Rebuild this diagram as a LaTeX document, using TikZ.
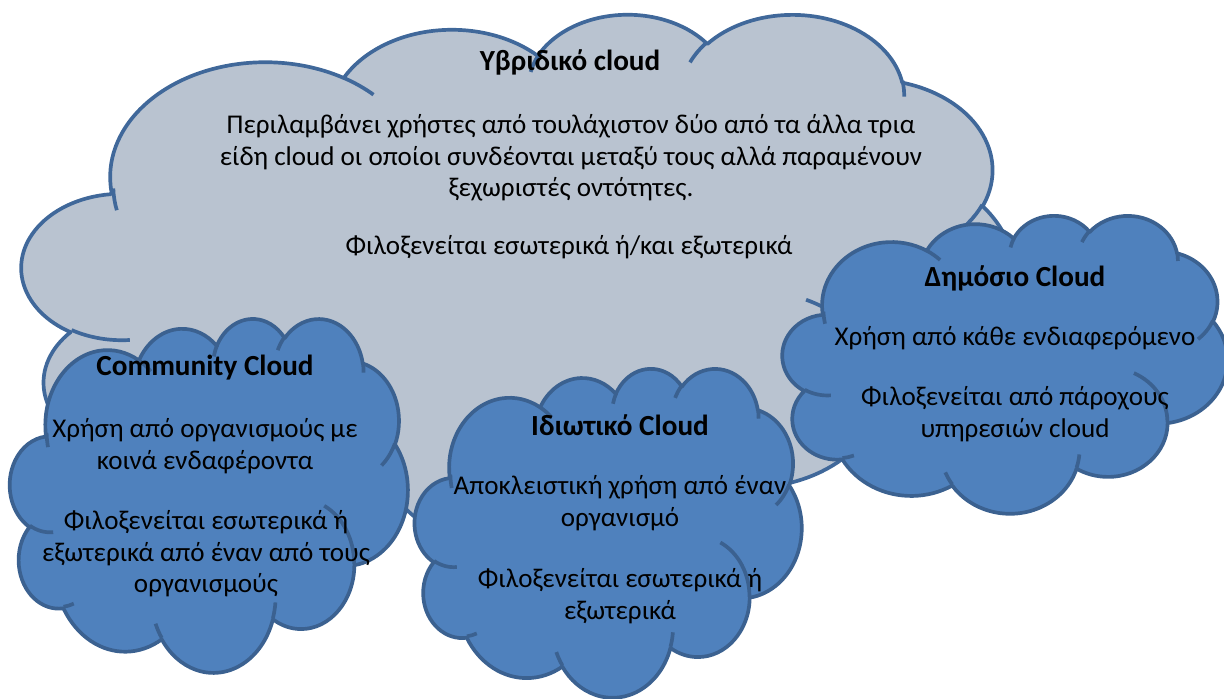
\documentclass[tikz,border=0pt]{standalone}
\usepackage{fontspec}
\setmainfont{Carlito}
\definecolor{hybfill}{HTML}{B9C3D0}
\definecolor{hybline}{HTML}{40689A}
\definecolor{cfill}{HTML}{4F81BD}
\definecolor{cline}{HTML}{3B6190}
\makeatletter
% Office "cloud" arc: rx, ry, visual start angle, visual sweep (degrees)
\newcommand\ocdef[5]{%
  \pgfmathsetmacro\oc@s{#4}%
  \pgfmathsetmacro\oc@e{#4+#5}%
  \pgfmathsetmacro\oc@ts{atan2(#2*sin(\oc@s),#3*cos(\oc@s))}%
  \pgfmathsetmacro\oc@te{atan2(#2*sin(\oc@e),#3*cos(\oc@e))}%
  \pgfmathsetmacro\oc@d{\oc@te-\oc@ts}%
  \pgfmathsetmacro\oc@d{\oc@d+360*round((#5-\oc@d)/360)}%
  \expandafter\xdef\csname #1\endcsname{arc[x radius=#2,y radius=#3,start angle=\oc@ts,delta angle=\oc@d]}%
}
\makeatother
\ocdef{ocA}{6.753}{9.190}{-190.48748}{123.78053}
\ocdef{ocB}{5.333}{7.267}{-144.10238}{89.94523}
\ocdef{ocC}{4.365}{5.945}{-145.80792}{99.72302}
\ocdef{ocD}{4.857}{6.595}{-130.98607}{117.24173}
\ocdef{ocE}{5.333}{7.273}{-78.70888}{109.02692}
\ocdef{ocF}{6.775}{9.220}{-46.26725}{130.269}
\ocdef{ocG}{5.785}{7.867}{0.62502}{114.03333}
\ocdef{ocH}{6.752}{9.215}{22.4516}{115.17255}
\ocdef{ocI}{7.720}{10.543}{66.24263}{75.71102}
\ocdef{ocJ}{4.360}{5.918}{-274.94208}{146.73557}
\ocdef{ocK}{4.345}{5.945}{-246.8285}{152.51885}
\ocdef{oiA}{4.345}{5.945}{86.742}{26.4295}
\ocdef{oiB}{4.360}{5.918}{73.61047}{11.44747}
\ocdef{oiC}{6.752}{9.215}{137.62415}{14.0811}
\ocdef{oiD}{6.752}{9.215}{6.45327}{15.99835}
\ocdef{oiE}{5.785}{7.867}{-70.29235}{70.91737}
\ocdef{oiF}{5.333}{7.273}{30.31803}{27.7515}
\ocdef{oiG}{4.857}{6.595}{-13.74433}{14.85342}
\ocdef{oiH}{4.857}{6.595}{-149.18145}{18.19058}
\ocdef{oiI}{4.365}{5.945}{-163.49427}{17.68622}
\ocdef{oiJ}{6.753}{9.190}{-66.70695}{12.31935}
\ocdef{oiK}{6.753}{9.190}{163.55182}{14.67928}
\newcommand\ocloudpath{(3.900,14.370) \ocA \ocB \ocC \ocD \ocE \ocF \ocG \ocH \ocI \ocJ \ocK -- cycle}
\newcommand\ocinner{(4.693,26.177) \oiA (6.928,34.899) \oiB (16.478,39.090) \oiC
  (28.827,34.751) \oiD (34.129,22.954) \oiE (41.798,15.354) \oiF (38.324,5.426) \oiG
  (29.078,3.952) \oiH (22.141,4.720) \oiI (14.000,5.192) \oiJ (4.127,15.789) \oiK}
% #1 x, #2 y (top-left, px), #3 width, #4 height (px), #5 fill, #6 line
\newcommand\ocloud[6]{%
  \begin{scope}[shift={(#1*0.01,-#2*0.01)}, xscale=#3*0.01/43.2, yscale=-#4*0.01/43.2]
    \path[fill=#5, draw=#6, cloudline] \ocloudpath;
    \path[draw=#6, cloudline] \ocinner;
  \end{scope}}
\tikzset{
  cloudline/.style={line width=1.05pt, line join=round},
  txt/.style={font=\fontsize{7.7}{8.96}\selectfont, align=center, inner sep=0pt, text=black},
  ttl/.style={font=\fontsize{8.3}{9.5}\selectfont\bfseries, align=center, inner sep=0pt, text=black}
}
\begin{document}
\begin{tikzpicture}
\useasboundingbox (0,0) rectangle (12.24,-6.99);
% clouds
\ocloud{22}{13}{993}{540}{hybfill}{hybline}
\ocloud{10}{318}{398}{354}{cfill}{cline}
\ocloud{415}{368}{387}{329}{cfill}{cline}
\ocloud{783}{215}{445}{298}{cfill}{cline}
% hybrid cloud text
\node[ttl] (hybT) at (5.70,-0.62) {Υβριδικό cloud};
\node[txt] (hybA) at (5.71,-1.58) {Περιλαμβάνει χρήστες από τουλάχιστον δύο από τα άλλα τρια\\είδη cloud οι οποίοι συνδέονται μεταξύ τους αλλά παραμένουν\\ξεχωριστές οντότητες.};
\node[txt] (hybB) at (5.69,-2.47) {Φιλοξενείται εσωτερικά ή/και εξωτερικά};
% community cloud text
\node[ttl] (comT) at (2.05,-3.68) {Community Cloud};
\node[txt] (comA) at (2.05,-4.46) {Χρήση από οργανισμούς με\\κοινά ενδαφέροντα};
\node[txt] (comB) at (2.06,-5.54) {Φιλοξενείται εσωτερικά ή\\εξωτερικά από έναν από τους\\οργανισμούς};
% private cloud text
\node[ttl] (priT) at (6.20,-4.25) {Ιδιωτικό Cloud};
\node[txt] (priA) at (6.20,-5.03) {Αποκλειστική χρήση από έναν\\οργανισμό};
\node[txt] (priB) at (6.20,-5.96) {Φιλοξενείται εσωτερικά ή\\εξωτερικά};
% public cloud text
\node[ttl] (pubT) at (10.15,-2.78) {Δημόσιο Cloud};
\node[txt] (pubA) at (10.15,-3.38) {Χρήση από κάθε ενδιαφερόμενο};
\node[txt] (pubB) at (10.15,-4.14) {Φιλοξενείται από πάροχους\\υπηρεσιών cloud};
\end{tikzpicture}
\end{document}
